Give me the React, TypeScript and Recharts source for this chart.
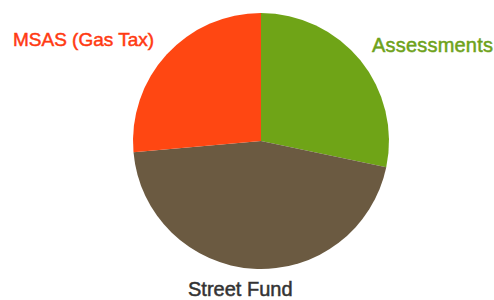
import { PieChart, Pie, Cell } from "recharts";

const names = ["Assessments", "Street Fund", "MSAS (Gas Tax)"];
const shares = [28.3, 45.3, 26.4];
const colors = ["#6FA417", "#6B5A41", "#FF4712"];
const labelColors = ["#6EA21A", "#333333", "#FF3A12"];

const data = names.map((name, i) => ({ name, value: shares[i] }));

// label spots picked by eye from the reference
const labelSpots = [
  { x: 372, y: 52, size: 20, spacing: 0.2 },
  { x: 188, y: 296, size: 20, spacing: 0 },
  { x: 13, y: 46, size: 19, spacing: 0 },
];

const renderLabel = (props: any) => {
  const spot = labelSpots[props.index];
  const c = labelColors[props.index];
  return (
    <text
      x={spot.x}
      y={spot.y}
      textAnchor="start"
      fill={c}
      stroke={c}
      strokeWidth={0.5}
      letterSpacing={spot.spacing}
      fontSize={spot.size}
      fontFamily="'Liberation Sans', Arial, sans-serif"
    >
      {props.name}
    </text>
  );
};

export default function App() {
  return (
    <div style={{ position: "absolute", left: 0, top: 0, background: "#fff" }}>
      <PieChart width={494} height={300} margin={{ top: 0, right: 0, bottom: 0, left: 0 }}>
        <Pie
          data={data}
          dataKey="value"
          nameKey="name"
          cx={261}
          cy={141}
          outerRadius={128}
          startAngle={90}
          endAngle={-270}
          stroke="none"
          label={renderLabel}
          labelLine={false}
          isAnimationActive={false}
        >
          {data.map((d, i) => (
            <Cell key={d.name} fill={colors[i]} />
          ))}
        </Pie>
      </PieChart>
    </div>
  );
}
